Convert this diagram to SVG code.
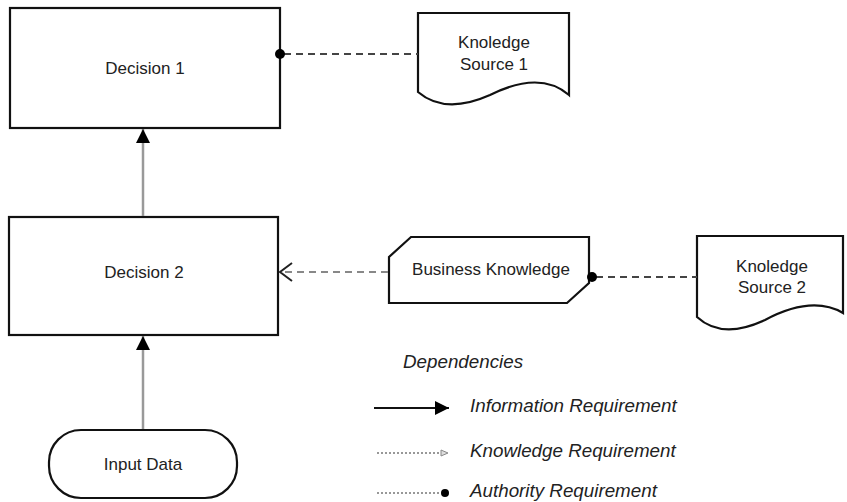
<svg xmlns="http://www.w3.org/2000/svg" width="847" height="502" viewBox="0 0 847 502">
  <style>
    .shape { fill: #ffffff; stroke: #111111; stroke-width: 2.2; stroke-linejoin: miter; }
    .label { font-family: "Liberation Sans", Arial, sans-serif; font-size: 17px; fill: #222222; text-anchor: middle; }
    .legend { font-family: "Liberation Sans", Arial, sans-serif; font-size: 18.8px; font-style: italic; fill: #222222; }
    .info { stroke: #999999; stroke-width: 2.5; fill: none; }
    .knowledge { stroke: #888888; stroke-width: 2; stroke-dasharray: 7 5; fill: none; }
    .authority { stroke: #444444; stroke-width: 2.2; stroke-dasharray: 7 5; fill: none; }
    .dotted { stroke: #777777; stroke-width: 1.5; stroke-dasharray: 2 2; fill: none; }
  </style>
  <defs>
    <marker id="solidHead" viewBox="0 0 14 14" refX="14" refY="7" markerWidth="14" markerHeight="14" markerUnits="userSpaceOnUse" orient="auto">
      <path d="M0,0 L14,7 L0,14 Z" fill="#000000"/>
    </marker>
    <marker id="openHead" viewBox="0 0 14 20" refX="13" refY="10" markerWidth="14" markerHeight="20" markerUnits="userSpaceOnUse" orient="auto">
      <path d="M1,1 L13,10 L1,19" fill="none" stroke="#222222" stroke-width="2"/>
    </marker>
  </defs>

  <g id="decision1">
    <rect class="shape" x="10" y="8" width="270" height="120"/>
    <text class="label" x="145" y="74">Decision 1</text>
  </g>

  <g id="decision2">
    <rect class="shape" x="9" y="217" width="269" height="118"/>
    <text class="label" x="144" y="278">Decision 2</text>
  </g>

  <g id="inputData">
    <rect class="shape" x="49" y="430" width="188" height="68" rx="32" ry="32"/>
    <text class="label" x="143" y="470">Input Data</text>
  </g>

  <g id="businessKnowledge">
    <path class="shape" d="M411,237 H589 V283 L567,303 H389 V257 Z"/>
    <text class="label" x="491" y="275">Business Knowledge</text>
  </g>

  <g id="knowledgeSource1">
    <path class="shape" d="M418,13 H569 V95 Q540,70 490,95 Q445,115 418,92 Z"/>
    <text class="label" x="494" y="48">Knoledge</text>
    <text class="label" x="494" y="70">Source 1</text>
  </g>

  <g id="knowledgeSource2">
    <path class="shape" d="M697,236 H843 V313 Q812,295 765,320 Q722,340 697,317 Z"/>
    <text class="label" x="772" y="272">Knoledge</text>
    <text class="label" x="772" y="293">Source 2</text>
  </g>

  <!-- dependencies, drawn over the node outlines -->
  <g id="connectors">
    <!-- information requirements -->
    <line class="info" x1="143" y1="216" x2="143" y2="129" marker-end="url(#solidHead)"/>
    <line class="info" x1="143" y1="429" x2="143" y2="336" marker-end="url(#solidHead)"/>
    <!-- knowledge requirement -->
    <line class="knowledge" x1="388" y1="272" x2="280" y2="272" marker-end="url(#openHead)"/>
    <!-- authority requirements -->
    <line class="authority" x1="284" y1="54" x2="418" y2="54"/>
    <circle cx="280" cy="54" r="5" fill="#000000"/>
    <line class="authority" x1="596" y1="277" x2="697" y2="277"/>
    <circle cx="592" cy="277" r="5" fill="#000000"/>
  </g>

  <g id="legend">
    <text class="legend" x="403" y="368">Dependencies</text>
    <line x1="374" y1="408" x2="449" y2="408" stroke="#111111" stroke-width="1.8" marker-end="url(#solidHead)"/>
    <text class="legend" x="470" y="412">Information Requirement</text>
    <line class="dotted" x1="377" y1="453" x2="440" y2="453"/>
    <path d="M441,450 L448,453 L441,456 Z" fill="#dddddd" stroke="#888888" stroke-width="1"/>
    <text class="legend" x="470" y="457">Knowledge Requirement</text>
    <line class="dotted" x1="377" y1="493" x2="441" y2="493"/>
    <circle cx="445" cy="493" r="4" fill="#000000"/>
    <text class="legend" x="470" y="497">Authority Requirement</text>
  </g>
</svg>
